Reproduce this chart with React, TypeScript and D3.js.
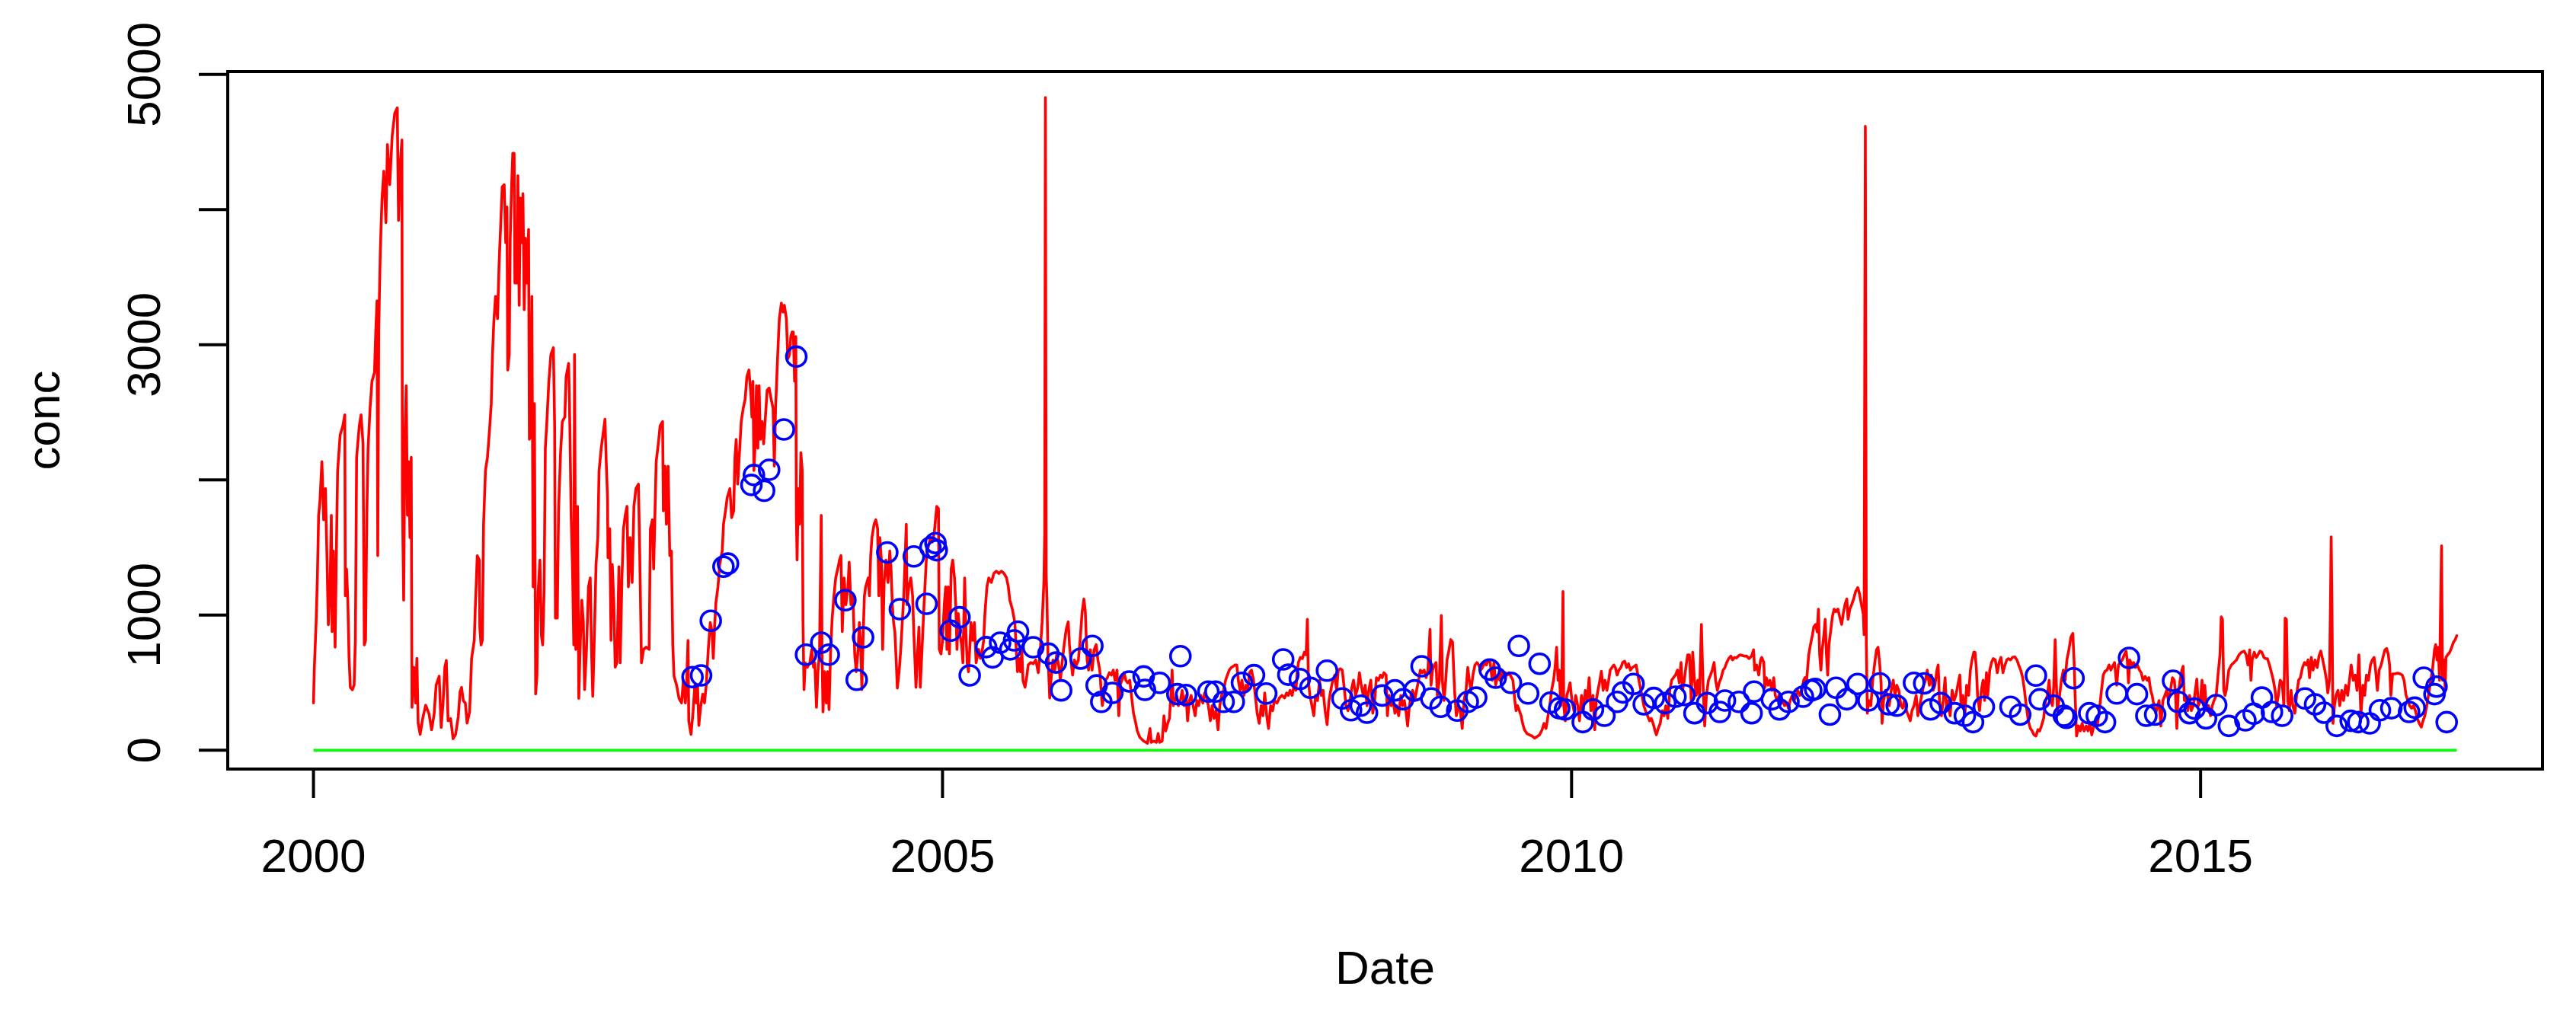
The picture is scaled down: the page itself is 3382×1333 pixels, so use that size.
import React from 'react';
import * as d3 from 'd3';

const W = 3382;
const H = 1333;

// Daily concentration series (decimal year, conc)
const concLine: [number, number][] = [
  [2000.000, 350], [2000.007, 614], [2000.021, 945], [2000.031, 1275], [2000.041, 1738], [2000.051, 1837],
  [2000.067, 2135], [2000.081, 1705], [2000.095, 1936], [2000.107, 1440], [2000.118, 928], [2000.132, 1209],
  [2000.142, 1738], [2000.148, 878], [2000.158, 1474], [2000.172, 763], [2000.182, 1474], [2000.192, 2069],
  [2000.212, 2333], [2000.233, 2399], [2000.249, 2482], [2000.253, 1143], [2000.263, 1341], [2000.273, 1110],
  [2000.283, 680], [2000.293, 465], [2000.309, 448], [2000.323, 482], [2000.333, 813], [2000.343, 2168],
  [2000.364, 2399], [2000.378, 2482], [2000.394, 2267], [2000.404, 779], [2000.414, 813], [2000.424, 1738],
  [2000.434, 2234], [2000.450, 2531], [2000.465, 2730], [2000.485, 2796], [2000.495, 3094], [2000.505, 3325],
  [2000.511, 1440], [2000.519, 3127], [2000.531, 3689], [2000.545, 4085], [2000.559, 4284], [2000.576, 3903],
  [2000.588, 4482], [2000.606, 4185], [2000.626, 4548], [2000.646, 4713], [2000.666, 4753], [2000.676, 3920],
  [2000.693, 4383], [2000.703, 4515], [2000.707, 1837], [2000.717, 1110], [2000.727, 2333], [2000.737, 2697],
  [2000.747, 1738], [2000.757, 2135], [2000.767, 1573], [2000.777, 2168], [2000.783, 317], [2000.798, 614],
  [2000.812, 350], [2000.822, 680], [2000.832, 201], [2000.848, 118], [2000.868, 234], [2000.892, 333],
  [2000.919, 267], [2000.939, 151], [2000.959, 267], [2000.975, 482], [2000.999, 548], [2001.015, 168],
  [2001.030, 350], [2001.044, 614], [2001.056, 664], [2001.070, 217], [2001.090, 234], [2001.110, 85],
  [2001.130, 118], [2001.151, 250], [2001.165, 432], [2001.177, 465], [2001.191, 366], [2001.207, 350],
  [2001.221, 201], [2001.241, 284], [2001.257, 680], [2001.278, 813], [2001.286, 1044], [2001.302, 1440],
  [2001.318, 1407], [2001.322, 911], [2001.332, 779], [2001.342, 813], [2001.352, 1672], [2001.367, 2069],
  [2001.383, 2168], [2001.399, 2366], [2001.413, 2564], [2001.423, 2928], [2001.433, 3160], [2001.447, 3358],
  [2001.463, 3193], [2001.475, 3589], [2001.488, 3887], [2001.500, 4168], [2001.516, 4184], [2001.528, 3755],
  [2001.538, 4019], [2001.544, 2813], [2001.556, 2928], [2001.564, 3788], [2001.574, 4151], [2001.584, 4416],
  [2001.595, 4416], [2001.601, 3457], [2001.615, 3457], [2001.625, 4251], [2001.635, 3292], [2001.645, 4085],
  [2001.655, 3755], [2001.665, 4118], [2001.675, 3259], [2001.685, 3788], [2001.697, 3457], [2001.710, 3854],
  [2001.716, 2300], [2001.726, 2333], [2001.736, 3358], [2001.746, 1209], [2001.756, 2564], [2001.766, 416],
  [2001.776, 548], [2001.786, 1176], [2001.800, 1407], [2001.812, 846], [2001.822, 779], [2001.833, 1176],
  [2001.843, 2234], [2001.857, 2465], [2001.871, 2730], [2001.887, 2928], [2001.907, 2978], [2001.917, 2399],
  [2001.923, 978], [2001.938, 978], [2001.948, 1771], [2001.964, 2201], [2001.978, 2432], [2001.998, 2465],
  [2002.008, 2763], [2002.028, 2862], [2002.038, 2399], [2002.048, 1738], [2002.059, 1341], [2002.069, 779],
  [2002.075, 2928], [2002.085, 746], [2002.099, 1804], [2002.109, 383], [2002.119, 746], [2002.133, 1110],
  [2002.145, 945], [2002.155, 448], [2002.170, 746], [2002.186, 1209], [2002.200, 1275], [2002.210, 746],
  [2002.220, 399], [2002.230, 746], [2002.246, 1374], [2002.260, 1573], [2002.270, 2069], [2002.287, 2234],
  [2002.301, 2333], [2002.317, 2449], [2002.327, 2135], [2002.337, 1870], [2002.341, 1424], [2002.355, 1639],
  [2002.365, 813], [2002.375, 1374], [2002.388, 1077], [2002.398, 614], [2002.412, 647], [2002.428, 1358],
  [2002.438, 647], [2002.452, 1275], [2002.464, 1639], [2002.478, 1738], [2002.492, 1804], [2002.503, 1209],
  [2002.517, 1573], [2002.533, 1242], [2002.547, 1804], [2002.563, 1936], [2002.583, 1969], [2002.593, 1474],
  [2002.607, 647], [2002.624, 746], [2002.644, 763], [2002.668, 746], [2002.678, 1639], [2002.694, 1705],
  [2002.704, 1341], [2002.714, 1738], [2002.724, 2135], [2002.741, 2267], [2002.755, 2399], [2002.775, 2432],
  [2002.781, 1771], [2002.795, 2102], [2002.805, 1672], [2002.819, 2102], [2002.832, 1440],
  [2002.845, 1474], [2002.856, 779], [2002.866, 548], [2002.886, 482], [2002.906, 383], [2002.926, 350],
  [2002.940, 515], [2002.956, 350], [2002.966, 498], [2002.977, 813], [2002.983, 217], [2003.001, 118],
  [2003.017, 284], [2003.031, 482], [2003.043, 350], [2003.053, 482], [2003.063, 184], [2003.077, 317],
  [2003.094, 416], [2003.108, 350], [2003.122, 482], [2003.138, 746], [2003.154, 945], [2003.168, 878],
  [2003.178, 680], [2003.188, 911], [2003.199, 1093], [2003.215, 1209], [2003.229, 1374], [2003.249, 1474],
  [2003.259, 1672], [2003.275, 1771], [2003.289, 1870], [2003.310, 1936], [2003.324, 1721], [2003.340, 1771],
  [2003.350, 2168], [2003.360, 2300], [2003.372, 1969], [2003.384, 2168], [2003.400, 2432], [2003.416, 2531],
  [2003.431, 2597], [2003.445, 2763], [2003.461, 2813], [2003.477, 2631], [2003.485, 2465], [2003.493, 2730],
  [2003.501, 2069], [2003.511, 2267], [2003.521, 2697], [2003.532, 2234], [2003.542, 2697], [2003.552, 2300],
  [2003.566, 2432], [2003.578, 2267], [2003.592, 2465], [2003.606, 2664], [2003.622, 2680], [2003.638, 2597],
  [2003.653, 2531], [2003.663, 2102], [2003.673, 2531], [2003.683, 2763], [2003.693, 2994], [2003.703, 3193],
  [2003.719, 3308], [2003.733, 3242], [2003.743, 3292], [2003.759, 3193], [2003.770, 2895], [2003.784, 2928],
  [2003.794, 3060], [2003.804, 3094], [2003.814, 3094], [2003.824, 2730], [2003.834, 3060], [2003.838, 1738],
  [2003.844, 1407], [2003.854, 1936], [2003.864, 1672], [2003.874, 2201], [2003.885, 2069], [2003.891, 945],
  [2003.899, 448], [2003.909, 647], [2003.925, 614], [2003.945, 647], [2003.961, 746], [2003.975, 614],
  [2003.985, 647], [2003.998, 317], [2004.010, 581], [2004.022, 713], [2004.036, 1738], [2004.042, 746],
  [2004.050, 284], [2004.062, 581], [2004.076, 350], [2004.086, 581], [2004.098, 300], [2004.111, 746],
  [2004.123, 978], [2004.137, 1143], [2004.151, 1275], [2004.167, 1341], [2004.181, 1407], [2004.193, 1440],
  [2004.203, 878], [2004.218, 1275], [2004.232, 1077], [2004.248, 1209], [2004.258, 1391], [2004.272, 1077],
  [2004.288, 1143], [2004.302, 713], [2004.314, 581], [2004.329, 746], [2004.339, 945], [2004.349, 779],
  [2004.359, 448], [2004.369, 846], [2004.379, 1143], [2004.389, 1209], [2004.409, 1275], [2004.419, 1143],
  [2004.429, 1440], [2004.439, 1573], [2004.456, 1672], [2004.470, 1705], [2004.484, 1639], [2004.494, 1143],
  [2004.502, 1573], [2004.514, 1407], [2004.524, 746], [2004.536, 1242], [2004.550, 1407], [2004.567, 1242],
  [2004.581, 1474], [2004.591, 1341], [2004.601, 1077], [2004.611, 945], [2004.621, 878], [2004.631, 680],
  [2004.641, 460], [2004.655, 581], [2004.668, 746], [2004.682, 978], [2004.692, 1143], [2004.712, 1672],
  [2004.718, 1077], [2004.732, 1209], [2004.748, 1275], [2004.762, 1143], [2004.773, 846], [2004.789, 466],
  [2004.803, 746], [2004.813, 911], [2004.823, 466], [2004.837, 746], [2004.853, 1077], [2004.873, 1440],
  [2004.887, 1507], [2004.904, 1573], [2004.920, 1540], [2004.934, 1606], [2004.944, 1705], [2004.954, 1804],
  [2004.968, 1788], [2004.974, 746], [2004.988, 713], [2005.000, 813], [2005.014, 1077], [2005.025, 1209],
  [2005.035, 746], [2005.045, 1209], [2005.055, 713], [2005.069, 1341], [2005.081, 1407], [2005.095, 1275],
  [2005.105, 1077], [2005.115, 746], [2005.125, 1011], [2005.140, 846], [2005.152, 779], [2005.162, 647],
  [2005.176, 1275], [2005.186, 878], [2005.196, 647], [2005.206, 581], [2005.216, 746], [2005.226, 945],
  [2005.240, 813], [2005.253, 945], [2005.267, 647], [2005.287, 746], [2005.301, 680], [2005.317, 746],
  [2005.327, 813], [2005.337, 1011], [2005.353, 1209], [2005.368, 1275], [2005.388, 1242], [2005.408, 1308],
  [2005.428, 1325], [2005.448, 1308], [2005.469, 1325], [2005.489, 1308], [2005.509, 1275], [2005.523, 1209],
  [2005.535, 1110], [2005.555, 1044], [2005.575, 945], [2005.586, 746], [2005.596, 581], [2005.606, 680],
  [2005.620, 581], [2005.630, 746], [2005.640, 515], [2005.656, 466], [2005.670, 548],
  [2005.681, 631], [2005.701, 649], [2005.721, 640], [2005.741, 668], [2005.761, 574], [2005.777, 743],
  [2005.792, 950], [2005.806, 1250], [2005.812, 1600], [2005.818, 4830], [2005.824, 1300], [2005.830, 1119],
  [2005.838, 706], [2005.852, 387], [2005.862, 518], [2005.878, 668], [2005.892, 593], [2005.907, 706],
  [2005.923, 631], [2005.937, 518], [2005.953, 668], [2005.967, 781], [2005.983, 894], [2005.999, 950],
  [2006.009, 781], [2006.020, 668], [2006.034, 556], [2006.048, 668], [2006.064, 631], [2006.080, 668],
  [2006.094, 819], [2006.110, 1025], [2006.124, 1119], [2006.135, 1025], [2006.149, 668], [2006.161, 593],
  [2006.175, 743], [2006.189, 593], [2006.205, 743], [2006.221, 781], [2006.235, 668], [2006.250, 593],
  [2006.262, 424], [2006.270, 330], [2006.282, 406], [2006.296, 518], [2006.310, 537], [2006.326, 574],
  [2006.342, 556], [2006.357, 593], [2006.371, 518], [2006.387, 593], [2006.401, 255], [2006.411, 481],
  [2006.427, 518], [2006.443, 574], [2006.457, 518], [2006.472, 499], [2006.488, 518], [2006.504, 387],
  [2006.518, 274], [2006.532, 218], [2006.548, 143], [2006.568, 96], [2006.599, 68], [2006.629, 52],
  [2006.649, 161], [2006.659, 58], [2006.679, 68], [2006.700, 58], [2006.714, 124], [2006.726, 58],
  [2006.746, 68], [2006.760, 255], [2006.774, 143], [2006.790, 199], [2006.804, 236], [2006.815, 406],
  [2006.825, 593], [2006.835, 330], [2006.847, 368], [2006.861, 406], [2006.875, 330], [2006.891, 368],
  [2006.905, 443], [2006.921, 330], [2006.936, 406], [2006.948, 218], [2006.962, 368], [2006.976, 406],
  [2006.992, 330], [2007.008, 255], [2007.022, 368], [2007.036, 330], [2007.053, 406], [2007.069, 349],
  [2007.083, 424], [2007.099, 387], [2007.113, 330], [2007.129, 218], [2007.143, 330], [2007.158, 236],
  [2007.174, 293], [2007.190, 152], [2007.204, 330], [2007.218, 406], [2007.234, 443], [2007.250, 518],
  [2007.264, 556], [2007.279, 593], [2007.295, 612], [2007.311, 621], [2007.325, 631], [2007.339, 631],
  [2007.351, 518], [2007.365, 443], [2007.380, 518], [2007.396, 406], [2007.412, 481], [2007.426, 443],
  [2007.440, 574], [2007.456, 593], [2007.472, 518], [2007.486, 406], [2007.501, 274], [2007.517, 199],
  [2007.533, 330], [2007.547, 255], [2007.561, 424], [2007.577, 255], [2007.591, 161], [2007.608, 330],
  [2007.624, 293], [2007.638, 368], [2007.658, 349], [2007.678, 387], [2007.698, 406], [2007.719, 387],
  [2007.735, 424], [2007.749, 406], [2007.763, 443], [2007.779, 406], [2007.795, 481], [2007.809, 443],
  [2007.819, 574], [2007.829, 649], [2007.844, 687], [2007.860, 678], [2007.876, 725], [2007.890, 706],
  [2007.900, 969], [2007.908, 518], [2007.920, 406], [2007.936, 330], [2007.951, 255], [2007.965, 406],
  [2007.981, 368], [2007.997, 518], [2008.011, 406], [2008.025, 443], [2008.041, 293], [2008.057, 190],
  [2008.072, 368], [2008.086, 443], [2008.102, 518], [2008.118, 556], [2008.132, 443], [2008.146, 593],
  [2008.162, 603], [2008.177, 593], [2008.193, 462], [2008.207, 330], [2008.223, 293], [2008.239, 368],
  [2008.253, 462], [2008.267, 518], [2008.283, 406], [2008.300, 462], [2008.314, 574], [2008.328, 481],
  [2008.344, 406], [2008.360, 481], [2008.374, 330], [2008.388, 443], [2008.404, 518], [2008.420, 274],
  [2008.435, 368], [2008.449, 537], [2008.465, 518], [2008.481, 556], [2008.495, 537], [2008.509, 574],
  [2008.526, 556],
  [2008.536, 255], [2008.550, 406], [2008.566, 330], [2008.582, 368], [2008.596, 274], [2008.610, 330],
  [2008.626, 255], [2008.643, 406], [2008.657, 330], [2008.671, 368], [2008.683, 293], [2008.697, 180],
  [2008.707, 293], [2008.723, 406], [2008.737, 443], [2008.754, 368], [2008.768, 443], [2008.784, 518],
  [2008.798, 593], [2008.812, 574], [2008.828, 593], [2008.844, 537], [2008.858, 593], [2008.875, 894],
  [2008.883, 481], [2008.895, 593], [2008.909, 631], [2008.923, 649], [2008.933, 406], [2008.949, 518],
  [2008.965, 997], [2008.973, 518], [2008.986, 368], [2009.000, 518], [2009.010, 668], [2009.026, 743],
  [2009.040, 819], [2009.054, 800], [2009.070, 443], [2009.084, 255], [2009.101, 330], [2009.115, 293],
  [2009.131, 161], [2009.145, 368], [2009.161, 443], [2009.175, 612], [2009.187, 518], [2009.201, 443],
  [2009.216, 556], [2009.232, 631], [2009.248, 649], [2009.262, 631], [2009.278, 593], [2009.292, 612],
  [2009.308, 649], [2009.323, 631], [2009.337, 668], [2009.353, 649], [2009.369, 518], [2009.383, 649],
  [2009.397, 481], [2009.413, 556], [2009.430, 518], [2009.444, 593], [2009.460, 537], [2009.474, 574],
  [2009.490, 556], [2009.504, 574], [2009.518, 546], [2009.534, 518], [2009.549, 368], [2009.559, 293],
  [2009.571, 330], [2009.585, 293], [2009.599, 255], [2009.611, 199], [2009.625, 152], [2009.645, 124],
  [2009.666, 114], [2009.686, 105], [2009.706, 90], [2009.726, 101], [2009.746, 114], [2009.766, 152],
  [2009.781, 199], [2009.797, 161], [2009.813, 255], [2009.827, 330], [2009.841, 443], [2009.857, 518],
  [2009.871, 631], [2009.881, 762], [2009.892, 518], [2009.902, 593], [2009.914, 330], [2009.922, 443],
  [2009.932, 1175], [2009.938, 330], [2009.950, 218], [2009.962, 406], [2009.974, 443], [2009.988, 499],
  [2010.003, 368], [2010.019, 293], [2010.033, 406], [2010.049, 330], [2010.063, 218], [2010.079, 406],
  [2010.093, 293], [2010.109, 443], [2010.124, 368], [2010.140, 537], [2010.154, 293], [2010.170, 406],
  [2010.184, 152], [2010.196, 368], [2010.210, 443], [2010.225, 518], [2010.237, 584], [2010.251, 443],
  [2010.265, 518], [2010.281, 443], [2010.295, 518], [2010.307, 593], [2010.321, 612], [2010.336, 631],
  [2010.348, 612], [2010.362, 556], [2010.376, 593], [2010.392, 612], [2010.406, 649], [2010.422, 659],
  [2010.438, 612], [2010.453, 640], [2010.467, 593], [2010.483, 612], [2010.499, 621], [2010.513, 631],
  [2010.527, 556], [2010.543, 481], [2010.559, 406], [2010.574, 330], [2010.588, 293], [2010.604, 255],
  [2010.620, 218], [2010.634, 236], [2010.648, 199], [2010.664, 143], [2010.674, 114], [2010.689, 161],
  [2010.705, 199], [2010.721, 293], [2010.735, 255], [2010.749, 330], [2010.765, 236], [2010.781, 443],
  [2010.796, 518], [2010.810, 537], [2010.826, 556], [2010.842, 593], [2010.856, 499], [2010.870, 649],
  [2010.882, 443], [2010.896, 518], [2010.911, 631], [2010.923, 706], [2010.937, 706], [2010.951, 368],
  [2010.963, 725], [2010.977, 518], [2010.991, 406], [2011.003, 518], [2011.017, 406], [2011.032, 931],
  [2011.044, 518], [2011.058, 180], [2011.072, 406], [2011.088, 518], [2011.104, 556], [2011.118, 593],
  [2011.133, 649], [2011.145, 518], [2011.159, 443], [2011.173, 499], [2011.189, 537], [2011.205, 593],
  [2011.219, 612], [2011.233, 649], [2011.249, 678], [2011.266, 697], [2011.280, 668], [2011.296, 687],
  [2011.310, 683], [2011.326, 697], [2011.340, 706], [2011.355, 702], [2011.371, 697],
  [2011.391, 697], [2011.411, 678], [2011.431, 697], [2011.447, 743], [2011.455, 593], [2011.471, 631],
  [2011.488, 556], [2011.502, 668], [2011.512, 687], [2011.528, 649], [2011.536, 462], [2011.548, 537],
  [2011.562, 481], [2011.576, 518], [2011.592, 443], [2011.607, 537], [2011.619, 406], [2011.633, 368],
  [2011.649, 406], [2011.663, 349], [2011.677, 368], [2011.693, 330], [2011.710, 349], [2011.724, 311],
  [2011.738, 368], [2011.754, 406], [2011.770, 368], [2011.784, 406], [2011.798, 443], [2011.814, 406],
  [2011.831, 443], [2011.845, 518], [2011.855, 537], [2011.865, 481], [2011.875, 593], [2011.885, 706],
  [2011.899, 781], [2011.915, 856], [2011.925, 912], [2011.940, 931], [2011.952, 875], [2011.962, 1044],
  [2011.972, 706], [2011.982, 593], [2011.992, 743], [2012.006, 856], [2012.016, 969], [2012.026, 706],
  [2012.036, 556], [2012.046, 781], [2012.061, 894], [2012.073, 988], [2012.087, 1044], [2012.101, 1025],
  [2012.117, 1044], [2012.131, 988], [2012.147, 931], [2012.162, 1025], [2012.174, 1081], [2012.188, 1119],
  [2012.198, 969], [2012.212, 1044], [2012.228, 1081], [2012.242, 1119], [2012.258, 1175], [2012.275, 1203],
  [2012.289, 1157], [2012.303, 1081], [2012.319, 1006], [2012.325, 856], [2012.335, 4616], [2012.343, 781],
  [2012.351, 274], [2012.363, 368], [2012.379, 330], [2012.394, 518], [2012.410, 649], [2012.424, 743],
  [2012.436, 762], [2012.450, 631], [2012.460, 499], [2012.468, 199], [2012.480, 368], [2012.496, 443],
  [2012.511, 406], [2012.525, 330], [2012.541, 443], [2012.557, 518], [2012.571, 406], [2012.585, 481],
  [2012.601, 443], [2012.618, 330], [2012.632, 311], [2012.646, 368], [2012.662, 293], [2012.678, 255],
  [2012.692, 218], [2012.706, 293], [2012.722, 330], [2012.739, 406], [2012.753, 255], [2012.767, 330],
  [2012.783, 406], [2012.799, 481], [2012.813, 518], [2012.827, 593], [2012.844, 481], [2012.860, 556],
  [2012.874, 443], [2012.888, 481], [2012.904, 593], [2012.914, 631], [2012.924, 368], [2012.940, 255],
  [2012.954, 368], [2012.969, 537], [2012.981, 293], [2012.995, 368], [2013.009, 255], [2013.025, 443],
  [2013.041, 368], [2013.055, 406], [2013.070, 481], [2013.086, 556], [2013.096, 330], [2013.110, 406],
  [2013.126, 255], [2013.140, 481], [2013.156, 406], [2013.170, 593], [2013.183, 668], [2013.197, 725],
  [2013.207, 725], [2013.217, 612], [2013.227, 406], [2013.243, 293], [2013.257, 443], [2013.271, 518],
  [2013.283, 368], [2013.298, 574], [2013.308, 406], [2013.324, 593], [2013.338, 649], [2013.352, 678],
  [2013.368, 668], [2013.384, 574], [2013.398, 649], [2013.413, 687], [2013.429, 574], [2013.445, 631],
  [2013.459, 668], [2013.473, 678], [2013.489, 668], [2013.505, 687], [2013.523, 691], [2013.540, 668],
  [2013.554, 631], [2013.570, 593], [2013.586, 537], [2013.600, 443], [2013.614, 330], [2013.630, 218],
  [2013.647, 161], [2013.661, 143], [2013.675, 114], [2013.691, 105], [2013.707, 152], [2013.721, 143],
  [2013.735, 180], [2013.752, 236], [2013.768, 368], [2013.782, 406], [2013.796, 518], [2013.808, 368],
  [2013.822, 330], [2013.832, 462], [2013.844, 818], [2013.852, 518], [2013.862, 293], [2013.877, 387],
  [2013.893, 518], [2013.909, 593], [2013.923, 518], [2013.937, 668], [2013.953, 743], [2013.969, 837],
  [2013.984, 865], [2013.994, 668], [2014.004, 368], [2014.014, 105], [2014.030, 180], [2014.044, 143],
  [2014.058, 199], [2014.074, 143], [2014.091, 180], [2014.105, 143], [2014.119, 199], [2014.135, 114],
  [2014.151, 180], [2014.165, 218], [2014.179, 180], [2014.195, 293], [2014.212, 443],
  [2014.226, 556], [2014.240, 584], [2014.256, 593], [2014.272, 631], [2014.286, 593], [2014.300, 621],
  [2014.316, 649], [2014.333, 481], [2014.347, 631], [2014.361, 649], [2014.377, 668], [2014.393, 706],
  [2014.407, 734], [2014.417, 668], [2014.427, 499], [2014.437, 668], [2014.454, 631], [2014.468, 649],
  [2014.482, 612], [2014.498, 631], [2014.514, 593], [2014.528, 574], [2014.542, 518], [2014.559, 546],
  [2014.575, 518], [2014.589, 537], [2014.603, 443], [2014.615, 406], [2014.629, 330], [2014.643, 274],
  [2014.659, 330], [2014.670, 368], [2014.684, 180], [2014.700, 368], [2014.716, 406], [2014.730, 443],
  [2014.744, 368], [2014.760, 443], [2014.776, 537], [2014.791, 518], [2014.801, 406], [2014.811, 161],
  [2014.821, 406], [2014.837, 518], [2014.851, 593], [2014.861, 621], [2014.871, 368], [2014.881, 406],
  [2014.898, 293], [2014.912, 406], [2014.926, 293], [2014.942, 330], [2014.958, 443], [2014.970, 527],
  [2014.982, 330], [2014.998, 368], [2015.011, 518], [2015.023, 330], [2015.033, 481], [2015.047, 293],
  [2015.063, 330], [2015.079, 255], [2015.093, 330], [2015.107, 368], [2015.124, 406], [2015.140, 574],
  [2015.154, 706], [2015.164, 987], [2015.174, 968], [2015.184, 443], [2015.194, 406], [2015.204, 443],
  [2015.214, 518], [2015.224, 593], [2015.245, 631], [2015.265, 649], [2015.285, 668], [2015.305, 706],
  [2015.325, 725], [2015.346, 734], [2015.362, 706], [2015.376, 631], [2015.390, 743], [2015.400, 518],
  [2015.410, 668], [2015.426, 725], [2015.442, 687], [2015.456, 706], [2015.471, 734], [2015.487, 725],
  [2015.503, 687], [2015.517, 678], [2015.531, 678], [2015.547, 631], [2015.563, 574], [2015.578, 518],
  [2015.592, 443], [2015.604, 330], [2015.618, 406], [2015.632, 518], [2015.648, 499], [2015.662, 330],
  [2015.672, 978], [2015.682, 968], [2015.693, 368], [2015.705, 293], [2015.719, 443], [2015.733, 330],
  [2015.749, 274], [2015.763, 406], [2015.779, 518], [2015.793, 537], [2015.810, 612], [2015.826, 649],
  [2015.840, 631], [2015.854, 668], [2015.866, 537], [2015.880, 687], [2015.894, 593], [2015.910, 668],
  [2015.927, 612], [2015.941, 697], [2015.955, 734], [2015.971, 668], [2015.987, 593], [2016.001, 518],
  [2016.011, 424], [2016.024, 518], [2016.032, 1081], [2016.038, 1579], [2016.044, 1081], [2016.052, 199],
  [2016.064, 330], [2016.076, 406], [2016.092, 443], [2016.106, 330], [2016.122, 443], [2016.136, 368],
  [2016.153, 481], [2016.169, 406], [2016.183, 518], [2016.197, 631], [2016.213, 518], [2016.229, 556],
  [2016.243, 443], [2016.258, 706], [2016.274, 255], [2016.290, 481], [2016.304, 406], [2016.318, 556],
  [2016.334, 518], [2016.350, 631], [2016.364, 668], [2016.379, 687], [2016.391, 593], [2016.405, 443],
  [2016.419, 593], [2016.435, 631], [2016.449, 687], [2016.465, 743], [2016.479, 753], [2016.492, 706],
  [2016.502, 631], [2016.512, 406], [2016.526, 565], [2016.546, 565], [2016.566, 571], [2016.586, 565],
  [2016.603, 556], [2016.617, 518], [2016.633, 406], [2016.647, 368], [2016.661, 330], [2016.677, 311],
  [2016.693, 330], [2016.707, 293], [2016.722, 236], [2016.738, 199], [2016.754, 171], [2016.768, 218],
  [2016.782, 255], [2016.798, 330], [2016.814, 424], [2016.829, 518], [2016.843, 593], [2016.859, 743],
  [2016.869, 781], [2016.879, 668], [2016.889, 762], [2016.899, 518], [2016.909, 1157], [2016.915, 1513],
  [2016.923, 518], [2016.935, 668], [2016.944, 443], [2016.950, 687], [2016.964, 706], [2016.980, 725],
  [2016.996, 762], [2017.010, 800], [2017.024, 819], [2017.036, 847],
];

// Observed samples (decimal year, conc)
const samples: [number, number][] = [
  [2003.013, 541], [2003.081, 554], [2003.158, 958], [2003.259, 1358], [2003.295, 1381], [2003.481, 1963],
  [2003.501, 2036], [2003.582, 1920], [2003.622, 2075], [2003.739, 2373], [2003.838, 2912], [2003.915, 707],
  [2004.036, 796], [2004.096, 707], [2004.228, 1110], [2004.318, 521], [2004.369, 835], [2004.561, 1464],
  [2004.661, 1044], [2004.772, 1434], [2004.873, 1083], [2004.904, 1500], [2004.944, 1533], [2004.954, 1480],
  [2005.065, 885], [2005.135, 984], [2005.216, 554], [2005.347, 763], [2005.398, 687], [2005.458, 796],
  [2005.539, 746], [2005.569, 813], [2005.600, 878], [2005.721, 762], [2005.842, 715], [2005.902, 649],
  [2005.943, 443], [2006.098, 678], [2006.191, 772], [2006.225, 480], [2006.262, 358], [2006.350, 424],
  [2006.484, 509], [2006.599, 546], [2006.609, 447], [2006.726, 499], [2006.867, 415], [2006.891, 696],
  [2006.936, 409], [2007.113, 434], [2007.170, 434], [2007.234, 358], [2007.315, 358], [2007.380, 499],
  [2007.476, 556], [2007.573, 420], [2007.708, 672], [2007.749, 559], [2007.840, 527], [2007.924, 462],
  [2008.056, 589], [2008.178, 383], [2008.247, 296], [2008.324, 330], [2008.374, 278], [2008.495, 405],
  [2008.596, 443], [2008.661, 377], [2008.752, 443], [2008.808, 621], [2008.885, 383], [2008.959, 321],
  [2009.091, 293], [2009.175, 358], [2009.242, 390], [2009.349, 597], [2009.397, 537], [2009.518, 499],
  [2009.581, 772], [2009.655, 420], [2009.746, 640], [2009.833, 353], [2009.902, 311], [2009.948, 302],
  [2010.089, 208], [2010.170, 302], [2010.261, 255], [2010.362, 358], [2010.408, 428], [2010.493, 490],
  [2010.574, 340], [2010.654, 387], [2010.745, 349], [2010.826, 396], [2010.897, 409], [2010.977, 274],
  [2011.078, 349], [2011.179, 283], [2011.219, 368], [2011.330, 358], [2011.431, 274], [2011.451, 434],
  [2011.592, 377], [2011.653, 302], [2011.724, 358], [2011.839, 396], [2011.905, 443], [2011.936, 453],
  [2012.053, 264], [2012.103, 462], [2012.188, 377], [2012.274, 490], [2012.359, 368], [2012.450, 495],
  [2012.521, 340], [2012.585, 330], [2012.722, 499], [2012.803, 495], [2012.854, 302], [2012.934, 349],
  [2013.045, 274], [2013.126, 255], [2013.191, 208], [2013.277, 321], [2013.489, 321], [2013.566, 264],
  [2013.691, 552], [2013.721, 377], [2013.832, 330], [2013.913, 255], [2013.933, 240], [2013.990, 533],
  [2014.115, 274], [2014.175, 255], [2014.240, 208], [2014.333, 420], [2014.431, 683], [2014.494, 415],
  [2014.569, 255], [2014.639, 264], [2014.781, 514], [2014.821, 358], [2014.912, 274], [2014.952, 308],
  [2015.043, 236], [2015.124, 334], [2015.225, 180], [2015.356, 221], [2015.422, 270], [2015.487, 390],
  [2015.567, 283], [2015.648, 255], [2015.830, 383], [2015.910, 340], [2015.981, 278], [2016.082, 180],
  [2016.193, 218], [2016.253, 208], [2016.344, 199], [2016.425, 296], [2016.516, 311], [2016.657, 283],
  [2016.702, 315], [2016.774, 537], [2016.859, 415], [2016.875, 471], [2016.956, 208],
];

const xTicks = [2000, 2005, 2010, 2015];
const yTicks = [0, 1000, 2000, 3000, 4000, 5000];
const yTickLabels = ['0', '1000', '', '3000', '', '5000'];
const xTitle = 'Date';
const yTitle = 'conc';

const FONT = '"Liberation Sans", Arial, Helvetica, sans-serif';

function padRange(e: [number, number]): [number, number] {
  const d = e[1] - e[0];
  return [e[0] - 0.04 * d, e[1] + 0.04 * d];
}

export default function App() {
  const left = 299, right = 3338, top = 94, bottom = 1010;
  const xExt = d3.extent(concLine, (d) => d[0]) as [number, number];
  const yExt = d3.extent(concLine, (d) => d[1]) as [number, number];
  const x = d3.scaleLinear().domain(padRange(xExt)).range([left, right]);
  const y = d3.scaleLinear().domain(padRange(yExt)).range([bottom, top]);
  const line = d3.line<[number, number]>().x((d) => x(d[0])).y((d) => y(d[1]));
  const zeroLine: [number, number][] = [[xExt[0], 0], [xExt[1], 0]];
  const lw = 3.6;
  const tickLen = 38;
  const fs = 62;

  return (
    <div style={{ position: 'absolute', left: 0, top: 0 }}>
      <svg width={W} height={H} viewBox={`0 0 ${W} ${H}`} style={{ display: 'block', background: '#fff' }}>
        <rect x={0} y={0} width={W} height={H} fill="#fff" />
        <path d={line(concLine) || ''} fill="none" stroke="#FF0000" strokeWidth={lw} strokeLinejoin="round" strokeLinecap="round" />
        {samples.map((d, i) => (
          <circle key={i} cx={x(d[0])} cy={y(d[1])} r={13} fill="none" stroke="#0000FF" strokeWidth={lw} />
        ))}
        <path d={line(zeroLine) || ''} fill="none" stroke="#00FF00" strokeWidth={lw} />
        <rect x={left} y={top} width={right - left} height={bottom - top} fill="none" stroke="#000" strokeWidth={4} />
        {/* x axis */}
        <line x1={x(xTicks[0])} x2={x(xTicks[xTicks.length - 1])} y1={bottom} y2={bottom} stroke="#000" strokeWidth={4} />
        {xTicks.map((t) => (
          <g key={t}>
            <line x1={x(t)} x2={x(t)} y1={bottom} y2={bottom + tickLen} stroke="#000" strokeWidth={4} />
            <text x={x(t)} y={1145} textAnchor="middle" fontFamily={FONT} fontSize={fs} fill="#000">{t}</text>
          </g>
        ))}
        {/* y axis */}
        <line x1={left} x2={left} y1={y(yTicks[0])} y2={y(yTicks[yTicks.length - 1])} stroke="#000" strokeWidth={4} />
        {yTicks.map((t, i) => (
          <g key={t}>
            <line x1={left - tickLen} x2={left} y1={y(t)} y2={y(t)} stroke="#000" strokeWidth={4} />
            {yTickLabels[i] && (
              <text transform={`translate(210,${y(t)}) rotate(-90)`} textAnchor="middle" fontFamily={FONT} fontSize={fs} fill="#000">{yTickLabels[i]}</text>
            )}
          </g>
        ))}
        <text x={(left + right) / 2} y={1292} textAnchor="middle" fontFamily={FONT} fontSize={fs} fill="#000">{xTitle}</text>
        <text transform={`translate(78,${(top + bottom) / 2}) rotate(-90)`} textAnchor="middle" fontFamily={FONT} fontSize={fs} fill="#000">{yTitle}</text>
      </svg>
    </div>
  );
}
